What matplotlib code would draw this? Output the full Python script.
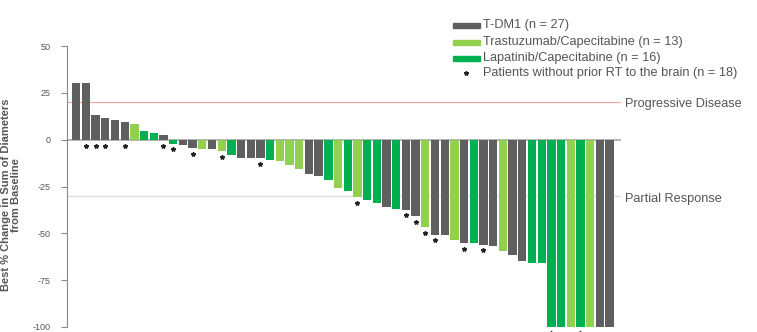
import matplotlib
matplotlib.use("Agg")
import matplotlib.pyplot as plt
from matplotlib.patches import Rectangle
from matplotlib.lines import Line2D
from matplotlib.transforms import blended_transform_factory

plt.rcParams['font.family'] = ['Liberation Sans', 'DejaVu Sans']

# treatment arm of each patient, sorted by best response
# D = T-DM1, T = trastuzumab/capecitabine, L = lapatinib/capecitabine
arm = list("DDDDDDTLLDLDDTDTLDDDLTTTDDLTLTLLDLDDTDDTDLDDTDDLLLLTLTDD")

# best % change in sum of diameters
change = [30.5, 30.5, 13.4, 11.6, 10.3, 9.3, 8.6, 4.5, 3.6, 2.5,
          -2.2, -2.6, -4.5, -5.0, -5.0, -6.0, -8.0, -9.8, -9.8, -9.8,
          -10.7, -11.6, -13.4, -15.7, -18.4, -19.6, -21.4, -25.8, -27.6, -30.7,
          -32.0, -33.9, -35.7, -36.9, -37.4, -41.0, -46.7, -50.8, -50.8, -53.5,
          -55.3, -55.3, -56.1, -57.0, -59.4, -61.5, -65.0, -66.0, -66.0, -100,
          -100, -100, -100, -100, -100, -100]

# patients without prior RT to the brain
no_rt = [1, 2, 3, 5, 9, 10, 12, 15, 19, 29, 34, 35, 36, 37, 40, 42, 49, 52]

arm_colors = {'D': '#5f5f5f', 'T': '#92d050', 'L': '#00b050'}
legend_labels = ['T-DM1 (n = 27)',
                 'Trastuzumab/Capecitabine (n = 13)',
                 'Lapatinib/Capecitabine (n = 16)']
yticks = [50, 25, 0, -25, -50, -75, -100]

W, H = 757, 332
fig = plt.figure(figsize=(W / 100, H / 100), dpi=100)
ax = fig.add_axes([67 / W, 5 / H, (621 - 67) / W, (327 - 46) / H])

x = list(range(len(change)))
ax.bar(x, change, width=0.86, color=[arm_colors[a] for a in arm], zorder=2)

star_y = [-3.5 if change[i] > 0 else change[i] - 3.0 for i in no_rt]
ax.plot(no_rt, star_y, linestyle='none', marker='*', markersize=3.2,
        color='#222222', clip_on=False, zorder=3)

ax.axhline(0, color='#a8a8a8', lw=1.2, zorder=1)
ax.axhline(20, color='#f3a3a3', lw=0.8, zorder=1)
ax.axhline(-30, color='#dcdcdc', lw=1.0, zorder=1)

trans = blended_transform_factory(ax.transAxes, ax.transData)
ax.text(1.007, 19.0, 'Progressive Disease', transform=trans, fontsize=9.2,
        color='#555555', va='center', ha='left')
ax.text(1.007, -31.5, 'Partial Response', transform=trans, fontsize=9.2,
        color='#555555', va='center', ha='left')

ax.set_xlim(-0.95, 56.18)
ax.set_ylim(-100, 50)
ax.set_xticks([])
ax.set_yticks(yticks)
ax.set_yticklabels([str(t) for t in yticks])
ax.tick_params(axis='y', length=4, width=0.8, color='#8a8a8a',
               labelsize=6.5, labelcolor='#555555', pad=8)
for side in ['top', 'right', 'bottom']:
    ax.spines[side].set_visible(False)
ax.spines['left'].set_color('#8a8a8a')
ax.spines['left'].set_linewidth(0.8)

fig.text(11 / W, 1 - 195 / H, 'Best % Change in Sum of Diameters\nfrom Baseline',
         rotation=90, ha='center', va='center', multialignment='center',
         fontsize=8, fontweight='bold', color='#555555', linespacing=1.05)

# legend rows
row_y = [25, 42, 58]
for code, label, ry in zip(['D', 'T', 'L'], legend_labels, row_y):
    fig.add_artist(Rectangle((453 / W, 1 - (ry + 2.5) / H), 27 / W, 5 / H,
                             transform=fig.transFigure, color=arm_colors[code]))
    fig.text(483 / W, 1 - ry / H, label, fontsize=9.2, color='#555555',
             va='center', ha='left')
fig.add_artist(Line2D([466 / W], [1 - 73 / H], marker='*', markersize=3.2,
                      color='#222222', transform=fig.transFigure))
fig.text(483 / W, 1 - 73 / H, 'Patients without prior RT to the brain (n = 18)',
         fontsize=9.2, color='#555555', va='center', ha='left')

fig.savefig('out.png', dpi=100)
